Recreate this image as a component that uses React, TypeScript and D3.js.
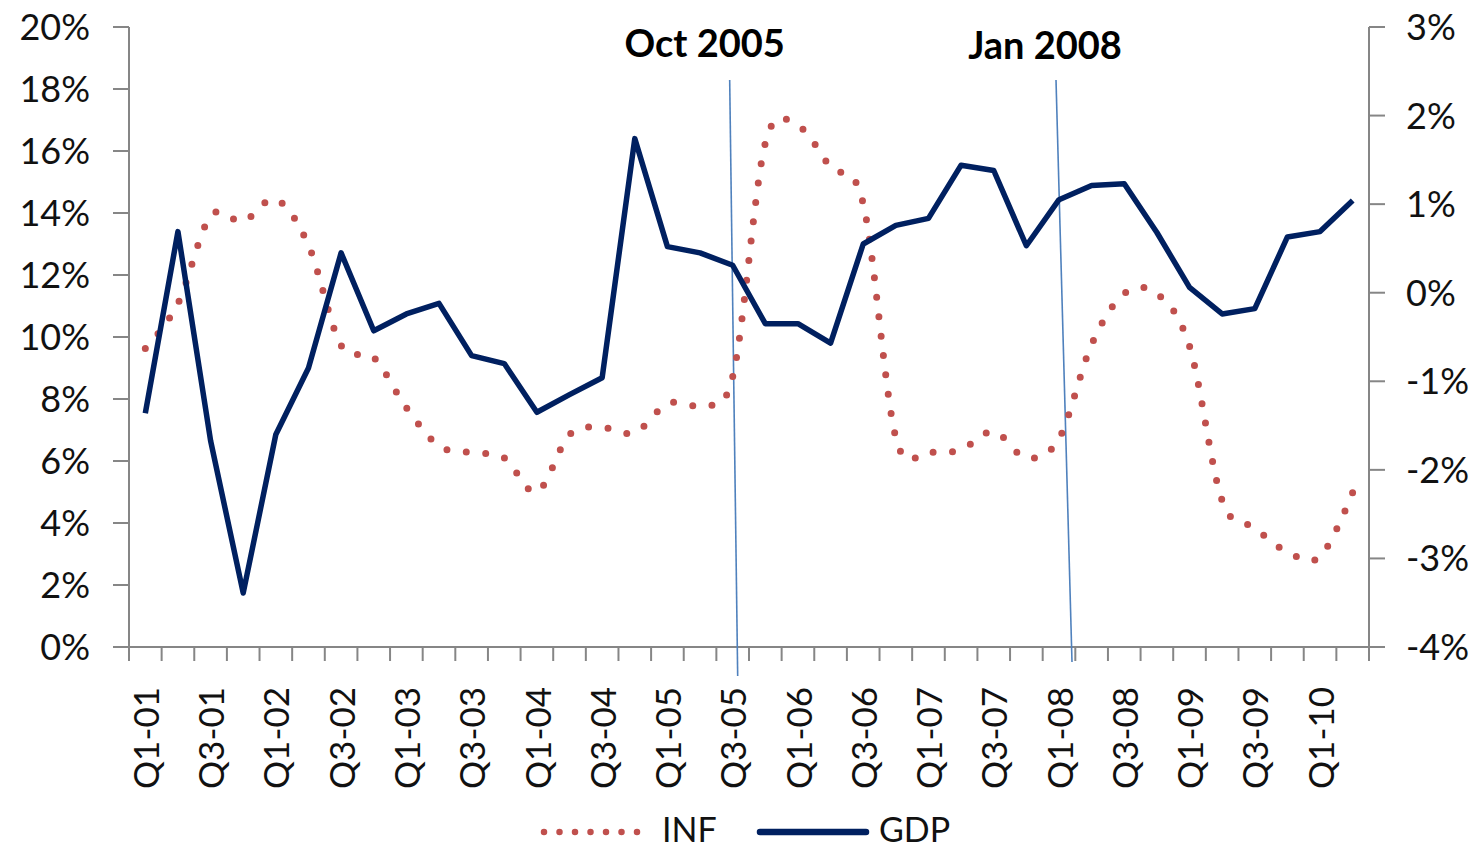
import React, { useEffect, useRef } from 'react';
import * as d3 from 'd3';

// quarters on the category axis
const quarters = [
  'Q1-01', 'Q2-01', 'Q3-01', 'Q4-01', 'Q1-02', 'Q2-02', 'Q3-02', 'Q4-02',
  'Q1-03', 'Q2-03', 'Q3-03', 'Q4-03', 'Q1-04', 'Q2-04', 'Q3-04', 'Q4-04',
  'Q1-05', 'Q2-05', 'Q3-05', 'Q4-05', 'Q1-06', 'Q2-06', 'Q3-06', 'Q4-06',
  'Q1-07', 'Q2-07', 'Q3-07', 'Q4-07', 'Q1-08', 'Q2-08', 'Q3-08', 'Q4-08',
  'Q1-09', 'Q2-09', 'Q3-09', 'Q4-09', 'Q1-10', 'Q2-10',
];

// inflation, % (left axis)
const infValues = [
  9.63, 11.08, 13.9, 13.73, 14.44, 12.96, 9.73, 9.34, 7.72, 6.49, 6.27, 6.1,
  5.0, 6.85, 7.08, 6.91, 7.85, 7.82, 8.72, 16.25, 16.8, 15.48, 14.3, 6.75,
  6.3, 6.37, 6.95, 6.1, 6.72, 9.76, 11.4, 11.4, 9.7, 4.72, 3.84, 3.07, 2.91,
  4.98,
];

// GDP growth q/q, % (right axis)
const gdpValues = [
  -1.36, 0.69, -1.67, -3.39, -1.6, -0.85, 0.45, -0.43, -0.24, -0.12, -0.71,
  -0.8, -1.35, -1.15, -0.96, 1.74, 0.52, 0.45, 0.31, -0.35, -0.35, -0.57, 0.55,
  0.76, 0.84, 1.44, 1.38, 0.53, 1.05, 1.21, 1.23, 0.68, 0.06, -0.24, -0.18,
  0.63, 0.69, 1.04,
];

const leftTicks = [0, 2, 4, 6, 8, 10, 12, 14, 16, 18, 20];
const rightTicks = [-4, -3, -2, -1, 0, 1, 2, 3];

// annotation markers: label + quarter where the line sits
const markers = [
  { label: 'Oct 2005', quarter: 'Q3-05' },
  { label: 'Jan 2008', quarter: 'Q1-08' },
];

const FONT = 'Lato, "Open Sans", sans-serif';

function App() {
  const svgRef = useRef<SVGSVGElement>(null);

  useEffect(() => {
    document.body.style.margin = '0';
    const svg = d3.select(svgRef.current);
    svg.selectAll('*').remove();

    const left = 129,
      right = 1369,
      top = 27,
      bottom = 647;
    const axisColor = '#868686';

    const x = d3.scaleBand().domain(quarters).range([left, right]);
    const cx = (q: string) => (x(q) as number) + x.bandwidth() / 2;
    const yL = d3.scaleLinear().domain([0, 20]).range([bottom, top]);
    const yR = d3.scaleLinear().domain([-4, 3]).range([bottom, top]);

    const g = svg.append('g');

    // left axis
    g.append('line')
      .attr('x1', left).attr('x2', left).attr('y1', top).attr('y2', bottom)
      .attr('stroke', axisColor).attr('stroke-width', 2);
    g.selectAll('.ltick')
      .data(leftTicks)
      .join('line')
      .attr('x1', left - 16).attr('x2', left)
      .attr('y1', (d) => yL(d)).attr('y2', (d) => yL(d))
      .attr('stroke', axisColor).attr('stroke-width', 2);
    g.selectAll('.llab')
      .data(leftTicks)
      .join('text')
      .attr('x', 90)
      .attr('y', (d) => yL(d))
      .attr('dy', '0.36em')
      .attr('text-anchor', 'end')
      .style('font-family', FONT)
      .style('font-size', '36px')
      .attr('fill', '#111')
      .text((d) => d + '%');

    // right axis
    g.append('line')
      .attr('x1', right).attr('x2', right).attr('y1', top).attr('y2', bottom)
      .attr('stroke', axisColor).attr('stroke-width', 2);
    g.selectAll('.rtick')
      .data(rightTicks)
      .join('line')
      .attr('x1', right).attr('x2', right + 16)
      .attr('y1', (d) => yR(d)).attr('y2', (d) => yR(d))
      .attr('stroke', axisColor).attr('stroke-width', 2);
    g.selectAll('.rlab')
      .data(rightTicks)
      .join('text')
      .attr('x', 1406)
      .attr('y', (d) => yR(d))
      .attr('dy', '0.36em')
      .style('font-family', FONT)
      .style('font-size', '36px')
      .attr('fill', '#111')
      .text((d) => d + '%');

    // bottom axis
    g.append('line')
      .attr('x1', left - 16).attr('x2', right + 16).attr('y1', bottom).attr('y2', bottom)
      .attr('stroke', axisColor).attr('stroke-width', 2);
    const bounds = quarters.map((q) => x(q) as number).concat([right]);
    g.selectAll('.xtick')
      .data(bounds)
      .join('line')
      .attr('x1', (d) => d).attr('x2', (d) => d)
      .attr('y1', bottom).attr('y2', bottom + 14)
      .attr('stroke', axisColor).attr('stroke-width', 2);
    g.selectAll('.xlab')
      .data(quarters.filter((q, i) => i % 2 === 0))
      .join('text')
      .attr('transform', (d) => `translate(${cx(d) + 1},687) rotate(-90)`)
      .attr('dy', '0.36em')
      .attr('text-anchor', 'end')
      .style('font-family', FONT)
      .style('font-size', '35px')
      .attr('fill', '#111')
      .text((d) => d);

    // marker lines (slightly slanted, as drawn by hand)
    markers.forEach((m, i) => {
      const mx = cx(m.quarter);
      g.append('line')
        .attr('x1', mx - 3).attr('y1', 80)
        .attr('x2', mx + (i === 0 ? 5 : 13)).attr('y2', i === 0 ? 676 : 662)
        .attr('stroke', '#4f81bd').attr('stroke-width', 1.6);
      g.append('text')
        .attr('x', mx - (i === 0 ? 28 : 14))
        .attr('y', i === 0 ? 57 : 59)
        .attr('text-anchor', 'middle')
        .style('font-family', FONT)
        .style('font-weight', 'bold')
        .style('font-size', '38px')
        .attr('fill', '#000')
        .text(m.label);
    });

    // INF: smoothed dotted line
    const infLine = d3
      .line<number>()
      .x((d, i) => cx(quarters[i]))
      .y((d) => yL(d))
      .curve(d3.curveCatmullRom.alpha(0));
    g.append('path')
      .attr('d', infLine(infValues))
      .attr('fill', 'none')
      .attr('stroke', '#c0504d')
      .attr('stroke-width', 7)
      .attr('stroke-linecap', 'round')
      .attr('stroke-dasharray', '0 19.5');

    // GDP: solid navy line
    const gdpLine = d3
      .line<number>()
      .x((d, i) => cx(quarters[i]))
      .y((d) => yR(d));
    g.append('path')
      .attr('d', gdpLine(gdpValues))
      .attr('fill', 'none')
      .attr('stroke', '#002060')
      .attr('stroke-width', 5.5)
      .attr('stroke-linejoin', 'round');

    // legend
    const legendY = 832;
    g.append('line')
      .attr('x1', 544).attr('x2', 638).attr('y1', legendY).attr('y2', legendY)
      .attr('stroke', '#c0504d').attr('stroke-width', 6.5)
      .attr('stroke-linecap', 'round').attr('stroke-dasharray', '0 15.5');
    g.append('text')
      .attr('x', 662).attr('y', 842)
      .style('font-family', FONT).style('font-size', '34px')
      .attr('fill', '#111').text('INF');
    g.append('line')
      .attr('x1', 760).attr('x2', 866).attr('y1', legendY).attr('y2', legendY)
      .attr('stroke', '#002060').attr('stroke-width', 6.5)
      .attr('stroke-linecap', 'round');
    g.append('text')
      .attr('x', 879).attr('y', 842)
      .style('font-family', FONT).style('font-size', '34px')
      .attr('fill', '#111').text('GDP');
  }, []);

  return (
    <svg
      ref={svgRef}
      width={1479}
      height={850}
      style={{ display: 'block', background: '#fff' }}
    />
  );
}

export default App;
